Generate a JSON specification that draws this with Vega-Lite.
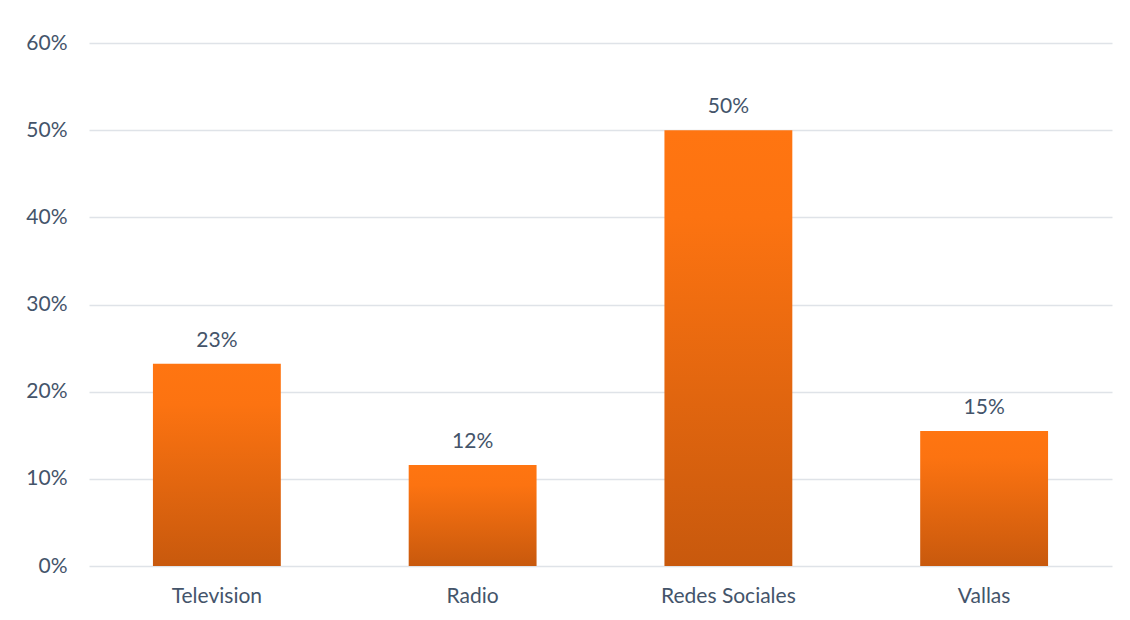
{
  "$schema": "https://vega.github.io/schema/vega-lite/v6.json",
  "width": 1023,
  "height": 523,
  "autosize": {"type": "none"},
  "padding": {"left": 89, "top": 43, "right": 18, "bottom": 54},
  "background": "white",
  "config": {
    "view": {"stroke": null},
    "font": "Lato",
    "axis": {"labelFont": "Lato", "labelColor": "#44546A", "labelFontSize": 21}
  },
  "data": {
    "values": [
      {"medio": "Television", "valor": 0.232, "etiqueta": "23%"},
      {"medio": "Radio", "valor": 0.116, "etiqueta": "12%"},
      {"medio": "Redes Sociales", "valor": 0.5, "etiqueta": "50%"},
      {"medio": "Vallas", "valor": 0.155, "etiqueta": "15%"}
    ]
  },
  "encoding": {
    "x": {
      "field": "medio",
      "type": "nominal",
      "sort": null,
      "scale": {"paddingInner": 0.5, "paddingOuter": 0.25},
      "axis": {"title": null, "labelAngle": 0, "domain": false, "ticks": false, "labelPadding": 19, "grid": false}
    },
    "y": {
      "field": "valor",
      "type": "quantitative",
      "scale": {"domain": [0, 0.6], "nice": false},
      "axis": {
        "title": null,
        "format": ".0%",
        "values": [0, 0.1, 0.2, 0.3, 0.4, 0.5, 0.6],
        "domain": false,
        "ticks": false,
        "labelPadding": 22,
        "gridColor": "#DFE3E8",
        "gridWidth": 1.5
      }
    }
  },
  "layer": [
    {
      "mark": {
        "type": "bar",
        "color": {
          "gradient": "linear",
          "x1": 0, "y1": 0, "x2": 0, "y2": 1,
          "stops": [
            {"offset": 0, "color": "#FF7511"},
            {"offset": 0.2, "color": "#FC7311"},
            {"offset": 1, "color": "#C8590D"}
          ]
        }
      }
    },
    {
      "mark": {"type": "text", "baseline": "bottom", "dy": -13, "fontSize": 21, "color": "#44546A", "font": "Lato"},
      "encoding": {"text": {"field": "etiqueta"}}
    }
  ]
}
